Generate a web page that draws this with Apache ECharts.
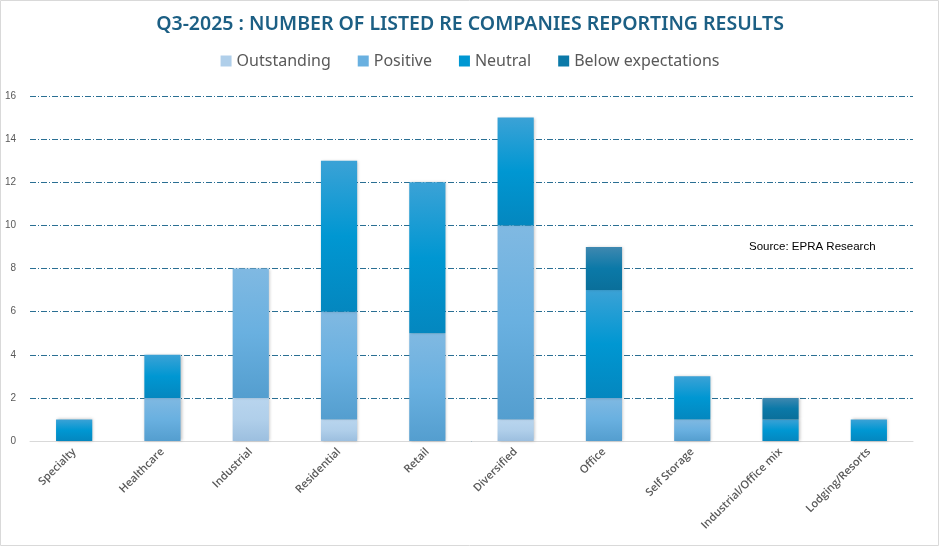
<!DOCTYPE html>
<html><head><meta charset="utf-8">
<script src="https://cdn.jsdelivr.net/npm/echarts@6/dist/echarts.min.js"></script>
<style>html,body{margin:0;padding:0;background:#fff}#c{width:940px;height:547px}</style>
</head><body><div id="c"></div>
<script>
const categories = ['Specialty','Healthcare','Industrial','Residential','Retail','Diversified','Office','Self Storage','Industrial/Office mix','Lodging/Resorts'];
const outstanding = [0,0,2,1,0,1,0,0,0,0];
const positive    = [0,2,6,5,5,9,2,1,0,0];
const neutral     = [1,2,0,7,7,5,5,2,1,1];
const below       = [0,0,0,0,0,0,2,0,1,0];
const yTicks = [0,2,4,6,8,10,12,14,16];

function grad(top, mid, bottom){
  return new echarts.graphic.LinearGradient(0,0,0,1,[
    {offset:0,color:top},{offset:0.5,color:mid},{offset:1,color:bottom}]);
}
const seriesDefs = [
  {name:'Outstanding', data:outstanding, c:grad('#b9d5ee','#b0cfea','#9cbfdf'), legend:'#b0cfea'},
  {name:'Positive', data:positive, c:grad('#80b9e2','#69b0e0','#549ecf'), legend:'#69b0e0'},
  {name:'Neutral', data:neutral, c:grad('#3ba2d6','#0097d2','#0487bf'), legend:'#0097d2'},
  {name:'Below expectations', data:below, c:grad('#3f88b0','#0b79a8','#0a6f9a'), legend:'#0b79a8'}
];
const chart = echarts.init(document.getElementById('c'));
chart.setOption({
  animation:false,
  title:{text:'Q3-2025 : NUMBER OF LISTED RE COMPANIES REPORTING RESULTS',left:'center',top:9,
    textStyle:{color:'#1c5f84',fontSize:19.5,fontWeight:600,fontFamily:'Noto Sans'}},
  legend:{top:48,left:'center',itemWidth:11,itemHeight:11,itemGap:27,icon:'rect',
    textStyle:{color:'#595959',fontSize:16,fontFamily:'Noto Sans'},
    data:seriesDefs.map(s=>({name:s.name,itemStyle:{color:s.legend}}))},
  grid:{left:30,right:27,top:96,bottom:106,containLabel:false},
  xAxis:{type:'category',data:categories,
    axisLine:{lineStyle:{color:'#d9d9d9'}},axisTick:{show:false},
    axisLabel:{rotate:45,interval:0,color:'#595959',fontSize:11,fontWeight:600,fontFamily:'Open Sans',margin:9}},
  yAxis:{type:'value',min:0,max:16,interval:2,
    axisLabel:{color:'#595959',fontSize:10,fontFamily:'Liberation Sans',margin:14,
      formatter:v=>yTicks.includes(v)?String(v):''},
    axisLine:{show:false},axisTick:{show:false},
    splitLine:{lineStyle:{color:'#2a6f93',width:1,type:[6,2,1,2]}}},
  series:seriesDefs.map(s=>({name:s.name,type:'bar',stack:'total',barWidth:'41%',
    data:s.data.map(v=>v===0?null:v),
    itemStyle:{color:s.c,shadowBlur:3,shadowColor:'rgba(0,0,0,0.25)',shadowOffsetX:1}})),
  graphic:[
    {type:'rect',shape:{x:0.5,y:0.5,width:938,height:545},style:{fill:'none',stroke:'#d9d9d9',lineWidth:1},z:-1},
    {type:'text',left:749,top:241,style:{text:'Source: EPRA Research',fill:'#000',fontSize:11.5,fontFamily:'Liberation Sans'}}
  ]
});
</script></body></html>
